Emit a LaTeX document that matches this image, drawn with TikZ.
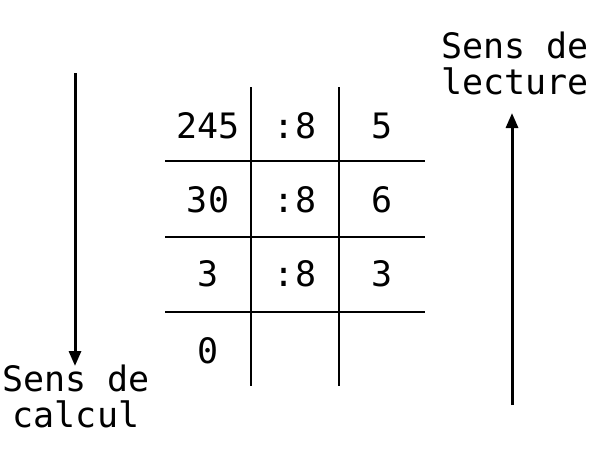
\documentclass[tikz,border=0pt]{standalone}
\usepackage{fontspec}
\setmonofont{DejaVu Sans Mono}
\usetikzlibrary{arrows.meta}
\begin{document}
\begin{tikzpicture}[x=1pt,y=-1pt,
  grid/.style={line width=2.8pt},
  arr/.style={line width=3pt,-{Triangle[length=15pt,width=12pt]}},
  cell/.style={font=\ttfamily\fontsize{35}{36}\selectfont,inner sep=0pt,anchor=center},
  lbl/.style={font=\ttfamily\fontsize{35}{36}\selectfont,align=center,inner sep=0pt}]
\useasboundingbox (0,0) rectangle (593,459);
% grid
\coordinate (v1t) at (251,87); \coordinate (v1b) at (251,386);
\coordinate (v2t) at (339,87); \coordinate (v2b) at (339,386);
\coordinate (h1l) at (165,161); \coordinate (h1r) at (425,161);
\coordinate (h2l) at (165,237); \coordinate (h2r) at (425,237);
\coordinate (h3l) at (165,312); \coordinate (h3r) at (425,312);
\draw[grid] (v1t) -- (v1b);
\draw[grid] (v2t) -- (v2b);
\draw[grid] (h1l) -- (h1r);
\draw[grid] (h2l) -- (h2r);
\draw[grid] (h3l) -- (h3r);
% cells
\node[cell] (a1) at (208,126) {245};
\node[cell] (b1) at (295,126) {:8};
\node[cell] (c1) at (382,126) {5};
\node[cell] (a2) at (208,200) {30};
\node[cell] (b2) at (295,200) {:8};
\node[cell] (c2) at (382,200) {6};
\node[cell] (a3) at (208,274) {3};
\node[cell] (b3) at (295,274) {:8};
\node[cell] (c3) at (382,274) {3};
\node[cell] (a4) at (208,351) {0};
% arrows
\coordinate (l1) at (75,73); \coordinate (l2) at (75,366);
\draw[arr] (l1) -- (l2);
\coordinate (r1) at (512,405); \coordinate (r2) at (512,113);
\draw[arr] (r1) -- (r2);
% labels
\node[lbl] (calc) at (76,396) {Sens de\\calcul};
\node[lbl] (lect) at (515,63) {Sens de\\lecture};
\end{tikzpicture}
\end{document}
